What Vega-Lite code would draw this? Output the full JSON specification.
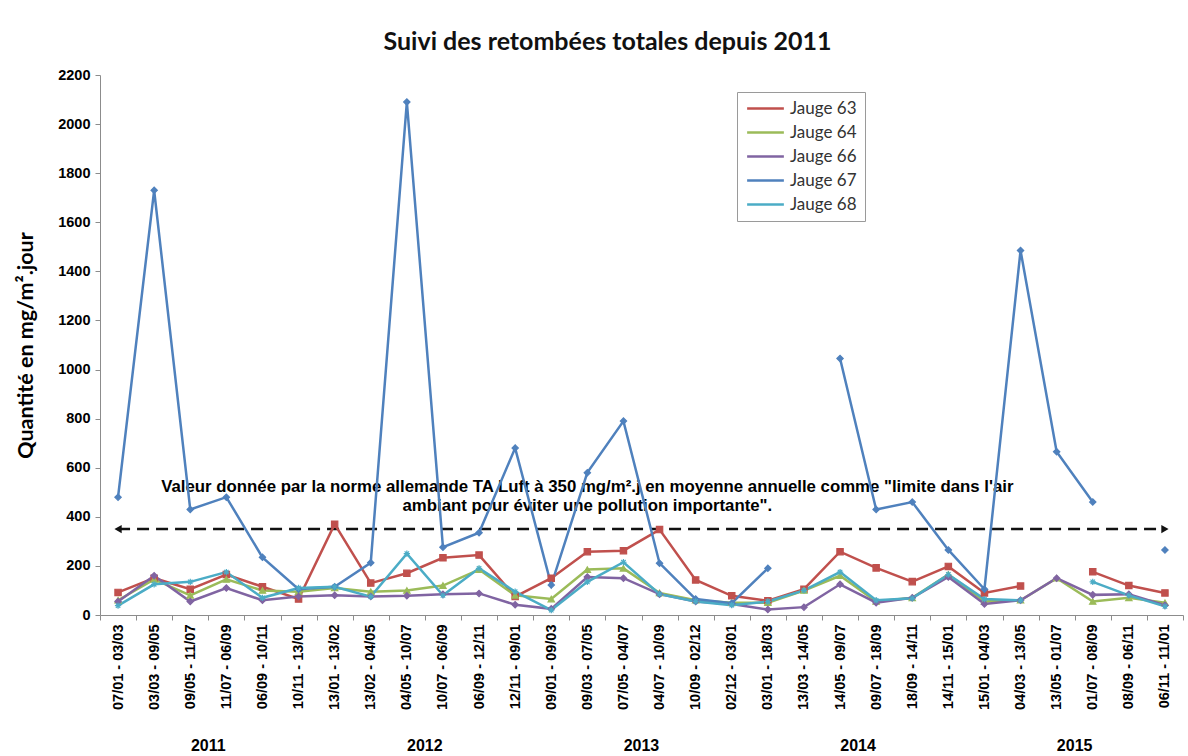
{
  "$schema": "https://vega.github.io/schema/vega-lite/v6.json",
  "width": 1083,
  "height": 540,
  "autosize": {"type": "none"},
  "padding": {"left": 100, "top": 75, "right": 5, "bottom": 141},
  "background": "white",
  "title": {"text": "Suivi des retombées totales depuis 2011", "font": "Lato", "fontSize": 25, "fontWeight": "bold", "color": "#111", "dx": -34, "offset": 12},
  "config": {"view": {"stroke": null}},
  "datasets": {
    "main": [
      {"i": 1, "p": "07/01 - 03/03", "Jauge 63": 92, "Jauge 64": 60, "Jauge 66": 55, "Jauge 67": 480, "Jauge 68": 38},
      {"i": 2, "p": "03/03 - 09/05", "Jauge 63": 150, "Jauge 64": 145, "Jauge 66": 160, "Jauge 67": 1730, "Jauge 68": 125},
      {"i": 3, "p": "09/05 - 11/07", "Jauge 63": 105, "Jauge 64": 80, "Jauge 66": 55, "Jauge 67": 430, "Jauge 68": 135},
      {"i": 4, "p": "11/07 - 06/09", "Jauge 63": 165, "Jauge 64": 145, "Jauge 66": 110, "Jauge 67": 480, "Jauge 68": 175},
      {"i": 5, "p": "06/09 - 10/11", "Jauge 63": 115, "Jauge 64": 100, "Jauge 66": 60, "Jauge 67": 235, "Jauge 68": 70},
      {"i": 6, "p": "10/11 - 13/01", "Jauge 63": 65, "Jauge 64": 95, "Jauge 66": 75, "Jauge 67": 105, "Jauge 68": 110},
      {"i": 7, "p": "13/01 - 13/02", "Jauge 63": 370, "Jauge 64": 110, "Jauge 66": 80, "Jauge 67": 115, "Jauge 68": 115},
      {"i": 8, "p": "13/02 - 04/05", "Jauge 63": 130, "Jauge 64": 95, "Jauge 66": 75, "Jauge 67": 213, "Jauge 68": 75},
      {"i": 9, "p": "04/05 - 10/07", "Jauge 63": 170, "Jauge 64": 100, "Jauge 66": 78, "Jauge 67": 2090, "Jauge 68": 250},
      {"i": 10, "p": "10/07 - 06/09", "Jauge 63": 233, "Jauge 64": 120, "Jauge 66": 85, "Jauge 67": 276, "Jauge 68": 80},
      {"i": 11, "p": "06/09 - 12/11", "Jauge 63": 244, "Jauge 64": 185, "Jauge 66": 88, "Jauge 67": 335, "Jauge 68": 190},
      {"i": 12, "p": "12/11 - 09/01", "Jauge 63": 75, "Jauge 64": 80, "Jauge 66": 42, "Jauge 67": 680, "Jauge 68": 95},
      {"i": 13, "p": "09/01 - 09/03", "Jauge 63": 150, "Jauge 64": 65, "Jauge 66": 25, "Jauge 67": 122, "Jauge 68": 20},
      {"i": 14, "p": "09/03 - 07/05", "Jauge 63": 258, "Jauge 64": 185, "Jauge 66": 155, "Jauge 67": 580, "Jauge 68": 135},
      {"i": 15, "p": "07/05 - 04/07", "Jauge 63": 262, "Jauge 64": 190, "Jauge 66": 150, "Jauge 67": 790, "Jauge 68": 215},
      {"i": 16, "p": "04/07 - 10/09", "Jauge 63": 348, "Jauge 64": 90, "Jauge 66": 85, "Jauge 67": 211, "Jauge 68": 85},
      {"i": 17, "p": "10/09 - 02/12", "Jauge 63": 143, "Jauge 64": 60, "Jauge 66": 55, "Jauge 67": 65, "Jauge 68": 55},
      {"i": 18, "p": "02/12 - 03/01", "Jauge 63": 78, "Jauge 64": 50, "Jauge 66": 45, "Jauge 67": 48, "Jauge 68": 40},
      {"i": 19, "p": "03/01 - 18/03", "Jauge 63": 58, "Jauge 64": 50, "Jauge 66": 22, "Jauge 67": 190, "Jauge 68": 55},
      {"i": 20, "p": "13/03 - 14/05", "Jauge 63": 105, "Jauge 64": 100, "Jauge 66": 32, "Jauge 67": null, "Jauge 68": 100},
      {"i": 21, "p": "14/05 - 09/07", "Jauge 63": 258, "Jauge 64": 160, "Jauge 66": 125, "Jauge 67": 1045, "Jauge 68": 175},
      {"i": 22, "p": "09/07 - 18/09", "Jauge 63": 192, "Jauge 64": 55, "Jauge 66": 50, "Jauge 67": 430, "Jauge 68": 60},
      {"i": 23, "p": "18/09 - 14/11", "Jauge 63": 136, "Jauge 64": 70, "Jauge 66": 70, "Jauge 67": 460, "Jauge 68": 68},
      {"i": 24, "p": "14/11 - 15/01", "Jauge 63": 198, "Jauge 64": 165, "Jauge 66": 155, "Jauge 67": 265, "Jauge 68": 165},
      {"i": 25, "p": "15/01 - 04/03", "Jauge 63": 90, "Jauge 64": 55, "Jauge 66": 45, "Jauge 67": 105, "Jauge 68": 65},
      {"i": 26, "p": "04/03 - 13/05", "Jauge 63": 118, "Jauge 64": 60, "Jauge 66": 60, "Jauge 67": 1485, "Jauge 68": 60},
      {"i": 27, "p": "13/05 - 01/07", "Jauge 63": null, "Jauge 64": 150, "Jauge 66": 150, "Jauge 67": 665, "Jauge 68": null},
      {"i": 28, "p": "01/07 - 08/09", "Jauge 63": 176, "Jauge 64": 55, "Jauge 66": 82, "Jauge 67": 460, "Jauge 68": 135},
      {"i": 29, "p": "08/09 - 06/11", "Jauge 63": 120, "Jauge 64": 70, "Jauge 66": 85, "Jauge 67": null, "Jauge 68": 80},
      {"i": 30, "p": "06/11 - 11/01", "Jauge 63": 90, "Jauge 64": 50, "Jauge 66": 40, "Jauge 67": 265, "Jauge 68": 35}
    ]
  },
  "layer": [
    {
      "data": {"values": [{"note": "TA Luft"}]},
      "mark": {"type": "text", "font": "Liberation Sans", "fontWeight": "bold", "fontSize": 16.8, "lineHeight": 19, "align": "center", "baseline": "middle", "color": "#000",
        "text": ["Valeur donnée par la norme allemande TA Luft à 350 mg/m².j en moyenne annuelle comme \"limite dans l'air", "ambiant pour éviter une pollution importante\"."]},
      "encoding": {
        "x": {"datum": "09/03 - 07/05", "type": "ordinal", "axis": null},
        "y": {"datum": 521, "type": "quantitative"}
      }
    },
    {
      "data": {"values": [{"p": "07/01 - 03/03", "v": 350}, {"p": "06/11 - 11/01", "v": 350}]},
      "mark": {"type": "line", "strokeDash": [12, 7], "strokeWidth": 2.5, "color": "#111"},
      "encoding": {
        "x": {"field": "p", "type": "ordinal", "bandPosition": 0.5,
          "axis": {"title": null, "orient": "bottom", "offset": 118, "ticks": false, "domain": false, "grid": false, "labelAngle": 0, "labelOffset": 18, "labelPadding": 4,
            "labelFont": "Liberation Sans", "labelFontWeight": "bold", "labelFontSize": 16, "labelColor": "#000", "labelOverlap": false, "labelAlign": "center", "labelBaseline": "top",
            "labelExpr": "datum.value == '09/05 - 11/07' ? '2011' : datum.value == '04/05 - 10/07' ? '2012' : datum.value == '07/05 - 04/07' ? '2013' : datum.value == '14/05 - 09/07' ? '2014' : datum.value == '13/05 - 01/07' ? '2015' : ''"}},
        "y": {"field": "v", "type": "quantitative"}
      }
    },
    {
      "data": {"values": [{"p": "07/01 - 03/03", "v": 350, "d": "gauche"}, {"p": "06/11 - 11/01", "v": 350, "d": "droite"}]},
      "mark": {"type": "point", "filled": true, "size": 70, "color": "#111", "opacity": 1},
      "encoding": {
        "x": {"field": "p", "type": "ordinal", "bandPosition": 0.5, "axis": null},
        "y": {"field": "v", "type": "quantitative"},
        "shape": {"field": "d", "type": "nominal", "scale": {"domain": ["gauche", "droite"], "range": ["triangle-left", "triangle-right"]}, "legend": null}
      }
    },
    {
      "data": {"name": "main"},
      "transform": [{"fold": ["Jauge 63", "Jauge 64", "Jauge 66", "Jauge 67", "Jauge 68"], "as": ["jauge", "v"]}],
      "mark": {"type": "line", "strokeWidth": 2.5},
      "encoding": {
        "x": {"field": "p", "type": "ordinal", "bandPosition": 0.5,
          "scale": {"type": "band", "paddingInner": 0, "paddingOuter": 0,
            "domain": ["07/01 - 03/03", "03/03 - 09/05", "09/05 - 11/07", "11/07 - 06/09", "06/09 - 10/11", "10/11 - 13/01", "13/01 - 13/02", "13/02 - 04/05", "04/05 - 10/07", "10/07 - 06/09", "06/09 - 12/11", "12/11 - 09/01", "09/01 - 09/03", "09/03 - 07/05", "07/05 - 04/07", "04/07 - 10/09", "10/09 - 02/12", "02/12 - 03/01", "03/01 - 18/03", "13/03 - 14/05", "14/05 - 09/07", "09/07 - 18/09", "18/09 - 14/11", "14/11 - 15/01", "15/01 - 04/03", "04/03 - 13/05", "13/05 - 01/07", "01/07 - 08/09", "08/09 - 06/11", "06/11 - 11/01"]},
          "axis": {"title": null, "orient": "bottom", "labelAngle": -90, "labelFont": "Liberation Sans", "labelFontWeight": "bold", "labelFontSize": 14.5, "labelColor": "#000", "labelPadding": 4,
            "tickBand": "extent", "tickSize": 5, "tickColor": "#8c8c8c", "domainColor": "#8c8c8c", "grid": false, "labelOverlap": false}},
        "y": {"field": "v", "type": "quantitative", "scale": {"domain": [0, 2200], "nice": false},
          "axis": {"title": "Quantité en mg/m².jour", "values": [0, 200, 400, 600, 800, 1000, 1200, 1400, 1600, 1800, 2000, 2200], "format": "d",
            "labelFont": "Liberation Sans", "labelFontWeight": "bold", "labelFontSize": 14.5, "labelColor": "#000", "labelPadding": 5,
            "tickSize": 5, "tickColor": "#8c8c8c", "domainColor": "#8c8c8c", "gridColor": "#a0a0a0", "gridWidth": 1,
            "titleFont": "Lato", "titleFontSize": 21.5, "titleFontWeight": "bold", "titleColor": "#000", "titlePadding": 20}},
        "color": {"field": "jauge", "type": "nominal",
          "scale": {"domain": ["Jauge 63", "Jauge 64", "Jauge 66", "Jauge 67", "Jauge 68"], "range": ["#C0504D", "#9BBB59", "#8064A2", "#4F81BD", "#4BACC6"]},
          "legend": {"title": null, "orient": "none", "legendX": 637, "legendY": 17, "symbolType": "M-3,0L3,0", "symbolSize": 150, "symbolStrokeWidth": 2.5,
            "symbolOffset": 12, "labelFont": "Lato", "labelFontSize": 17, "labelColor": "#333", "labelOffset": 16, "rowPadding": 6,
            "strokeColor": "#9a9a9a", "fillColor": "white", "padding": 8}},
        "order": {"field": "i", "type": "quantitative"}
      }
    },
    {
      "data": {"name": "main"},
      "transform": [{"fold": ["Jauge 63", "Jauge 64", "Jauge 66", "Jauge 67", "Jauge 68"], "as": ["jauge", "v"]}],
      "mark": {"type": "point", "filled": true, "size": 40, "strokeWidth": 1.2, "opacity": 1},
      "encoding": {
        "x": {"field": "p", "type": "ordinal", "bandPosition": 0.5, "axis": null},
        "y": {"field": "v", "type": "quantitative"},
        "fill": {"field": "jauge", "type": "nominal", "scale": {"domain": ["Jauge 63", "Jauge 64", "Jauge 66", "Jauge 67", "Jauge 68"], "range": ["#C0504D", "#9BBB59", "#8064A2", "#4F81BD", "#4BACC6"]}, "legend": null},
        "stroke": {"field": "jauge", "type": "nominal", "scale": {"domain": ["Jauge 63", "Jauge 64", "Jauge 66", "Jauge 67", "Jauge 68"], "range": ["#C0504D", "#9BBB59", "#8064A2", "#4F81BD", "#4BACC6"]}, "legend": null},
        "shape": {"field": "jauge", "type": "nominal", "scale": {"domain": ["Jauge 63", "Jauge 64", "Jauge 66", "Jauge 67", "Jauge 68"], "range": ["square", "triangle-up", "diamond", "diamond", "M-1,0L1,0M0,-1L0,1M-0.7,-0.7L0.7,0.7M-0.7,0.7L0.7,-0.7"]}, "legend": null}
      }
    }
  ],
  "resolve": {"axis": {"x": "independent"}, "scale": {"shape": "independent"}}
}
